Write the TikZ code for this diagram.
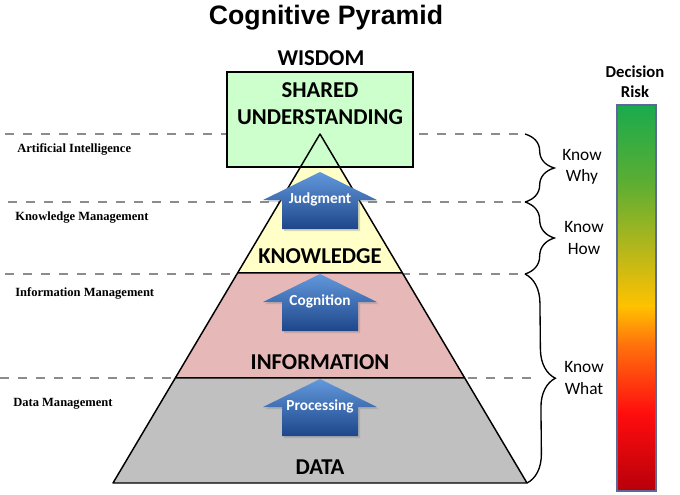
\documentclass[tikz,border=0pt]{standalone}
\usepackage{fontspec}
\setmainfont{Carlito}
\newfontfamily\titlefont{Liberation Sans}
\newfontfamily\sidefont{Liberation Serif}
\usetikzlibrary{positioning,calc,decorations.pathreplacing,shadows}

\definecolor{datagray}{RGB}{192,192,192}
\definecolor{infopink}{RGB}{230,184,183}
\definecolor{knowyellow}{RGB}{255,255,199}
\definecolor{wisegreen}{RGB}{204,255,204}
\definecolor{dashgray}{RGB}{140,140,140}
\definecolor{arrowtop}{RGB}{98,152,220}
\definecolor{arrowbot}{RGB}{30,70,138}
\definecolor{barframe}{RGB}{90,105,150}

\pgfdeclareverticalshading{riskshade}{100bp}{%
  rgb(0bp)=(0.72,0,0.04);
  rgb(25bp)=(0.72,0,0.04);
  rgb(35bp)=(1,0.05,0.05);
  rgb(44bp)=(1,0.45,0.05);
  rgb(49bp)=(1,0.76,0);
  rgb(56bp)=(0.72,0.72,0.1);
  rgb(65bp)=(0.36,0.68,0.2);
  rgb(75bp)=(0.1,0.67,0.3);
  rgb(100bp)=(0.1,0.67,0.3)}

\begin{document}
\begin{tikzpicture}[
  x=0.75pt,y=-0.75pt,
  dashline/.style={draw=dashgray,line width=2pt,dash pattern=on 7pt off 6.5pt},
  blockarrow/.style={top color=arrowtop,bottom color=arrowbot,
    drop shadow={opacity=0.3,shadow xshift=1.5pt,shadow yshift=-1.5pt}},
  curly/.style={draw,line width=1pt,decorate,decoration={brace,amplitude=22pt}},
  ]
  \useasboundingbox (0,0) rectangle (680,494);
  \coordinate (apex) at (320,134);
  \coordinate (base-l) at (113,483);
  \coordinate (base-r) at (527,483);
  \coordinate (info-l) at ($(apex)!0.699!(base-l)$);
  \coordinate (info-r) at ($(apex)!0.699!(base-r)$);
  \coordinate (know-l) at ($(apex)!0.398!(base-l)$);
  \coordinate (know-r) at ($(apex)!0.398!(base-r)$);
  \coordinate (box-nw) at (227,72);
  \coordinate (box-se) at (413,167);

  \foreach \ly/\lx/\rx in {134/5/518, 202/8/522, 274/5/522, 378/0/537}
    \draw[dashline] (\lx,\ly) -- (\rx,\ly);

  \fill[datagray] (base-l) -- (base-r) -- (info-r) -- (info-l) -- cycle;
  \fill[infopink] (info-l) -- (info-r) -- (know-r) -- (know-l) -- cycle;
  \fill[knowyellow] (know-l) -- (know-r) -- (apex) -- cycle;
  \filldraw[fill=wisegreen,line width=1.1pt] (box-nw) rectangle (box-se);
  \draw[line width=1.1pt,line join=round] (apex) -- (base-l) -- (base-r) -- cycle
    (info-l) -- (info-r) (know-l) -- (know-r);

  \foreach \ty/\lbl/\nm in {172/Judgment/judg, 274/Cognition/cogn, 379/Processing/proc}{
    \path[blockarrow] (320,\ty) -- ++(57,28) -- ++(-19,0) -- ++(0,29)
      -- ++(-76,0) -- ++(0,-29) -- ++(-19,0) -- cycle;
    \node[font=\bfseries\fontsize{11.5}{13}\selectfont,text=white] (\nm) at (320,\ty+27) {\lbl};
  }

  \begin{scope}[
    every node/.style={font=\bfseries\fontsize{17}{20}\selectfont,inner sep=0pt},
    ]
    \node (wisdom) at (321,58) {WISDOM};
    \node (shared) at (320,90) {SHARED};
    \node (underst) at (320,117) {UNDERSTANDING};
    \node (knowledge) at (320,256) {KNOWLEDGE};
    \node (information) at (320,362) {INFORMATION};
    \node (data) at (320,467) {DATA};
  \end{scope}

  \begin{scope}[
    every node/.style={font=\sidefont\bfseries\fontsize{9.4}{11}\selectfont,anchor=west,inner sep=0pt},
    ]
    \node (ai) at (17,149) {Artificial Intelligence};
    \node (km) at (15,218) {Knowledge Management};
    \node (im) at (15,293) {Information Management};
    \node (dm) at (13,404) {Data Management};
  \end{scope}

  \coordinate (why-top) at (525,134);
  \coordinate (why-bot) at (525,202);
  \coordinate (how-bot) at (525,274);
  \coordinate (what-bot) at (527,483);
  \draw[curly] (why-top) -- (why-bot);
  \draw[curly] (why-bot) -- (how-bot);
  \draw[curly] (how-bot) -- (what-bot);

  \begin{scope}[
    every node/.style={align=center,font=\fontsize{13}{16}\selectfont,inner sep=0pt},
    ]
    \node (why) at (582,167) {Know\\Why};
    \node (how) at (584,238) {Know\\How};
    \node (what) at (584,378) {Know\\What};
  \end{scope}

  \path[shading=riskshade,draw=barframe,line width=1pt] (617,105) rectangle (656,491);
  \node[align=center,font=\bfseries\fontsize{12.5}{15}\selectfont,inner sep=0pt] (risk) at (635,82) {Decision\\Risk};
  \node[font=\titlefont\bfseries\fontsize{20}{24}\selectfont,inner sep=0pt] (title) at (326,18) {Cognitive Pyramid};
\end{tikzpicture}
\end{document}
